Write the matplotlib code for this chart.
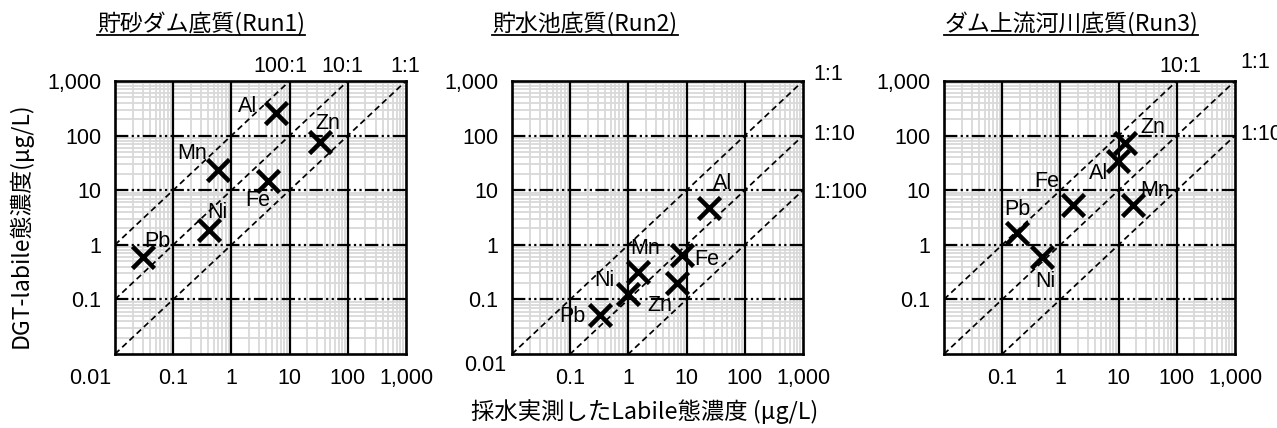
import numpy as np
import matplotlib.pyplot as plt
import matplotlib.transforms as mtransforms
from matplotlib.lines import Line2D

JP = ['Noto Sans CJK JP', 'DejaVu Sans']
NUM = ['Liberation Sans', 'DejaVu Sans']

titles = ['貯砂ダム底質(Run1)', '貯水池底質(Run2)', 'ダム上流河川底質(Run3)']
elements = ['Al', 'Zn', 'Mn', 'Fe', 'Ni', 'Pb']

# x: 採水実測 labile conc., y: DGT-labile conc. (ug/L), same element order
run1_x = [5.8, 33, 0.6, 4.3, 0.41, 0.030]
run1_y = [260, 76, 23, 15, 1.9, 0.6]
run2_x = [24, 6.8, 1.45, 8.3, 1.0, 0.32]
run2_y = [4.7, 0.2, 0.32, 0.65, 0.125, 0.052]
run3_x = [9.8, 13, 17.5, 1.65, 0.48, 0.18]
run3_y = [34, 73, 5.3, 5.3, 0.6, 1.65]

# reference lines y = r * x
run1_ratios = [100, 10, 1]
run1_ratio_labels = ['100:1', '10:1', '1:1']
run2_ratios = [1, 0.1, 0.01]
run2_ratio_labels = ['1:1', '1:10', '1:100']
run3_ratios = [10, 1, 0.1]
run3_ratio_labels = ['10:1', '1:1', '1:10']

tick_vals = [0.01, 0.1, 1, 10, 100, 1000]
tick_text = ['0.01', '0.1', '1', '10', '100', '1,000']

# label offsets in pixels (dx right, dy up)
run1_lab_off = [(-28, 6), (8, 19), (-26, 17), (-11, -20), (9, 17), (15, 15)]
run2_lab_off = [(14, 25), (-17, -23), (7, 23), (25, -4), (-24, 14), (-27, -2)]
run3_lab_off = [(-20, -12), (28, 16), (22, 15), (-26, 24), (4, -25), (0, 23)]

run1_ratio_off = [(-9, 14, 'center'), (-5, 14, 'center'), (-1, 14, 'center')]
run2_ratio_off = [(10, 6, 'left'), (10, 1, 'left'), (10, -2, 'left')]
run3_ratio_off = [(4, 14, 'center'), (20, 18, 'center'), (5, 1, 'left')]

W, H, DPI = 1277, 428, 100
fig = plt.figure(figsize=(W / DPI, H / DPI), dpi=DPI)
px = 72 / DPI  # points per pixel
FS = 15.5

panels = [
    (115, run1_x, run1_y, run1_ratios, run1_ratio_labels, run1_lab_off, run1_ratio_off, 201),
    (512, run2_x, run2_y, run2_ratios, run2_ratio_labels, run2_lab_off, run2_ratio_off, 585),
    (944, run3_x, run3_y, run3_ratios, run3_ratio_labels, run3_lab_off, run3_ratio_off, 1071),
]

minor = [m * 10.0 ** e for e in range(-2, 3) for m in range(2, 10)]
title_texts = []

for i, (left, xs, ys, ratios, rlabels, loff, roff, tcx) in enumerate(panels):
    ax = fig.add_axes([left / W, (H - 354) / H, 291 / W, 273 / H])
    ax.set_xscale('log')
    ax.set_yscale('log')
    ax.set_xlim(0.01, 1000)
    ax.set_ylim(0.01, 1000)

    # grid: light minor lines, solid major verticals, dash-dot-dot major horizontals
    for v in minor:
        ax.axvline(v, color='#d9d9d9', lw=1.3, zorder=0.5)
        ax.axhline(v, color='#d9d9d9', lw=1.3, zorder=0.5)
    for v in tick_vals[1:-1]:
        ax.axvline(v, color='black', lw=1.6, zorder=1)
        ax.axhline(v, color='black', lw=1.6, zorder=1,
                   linestyle=(0, (6, 1.5, 1, 1.5, 1, 1.5)))

    ax.minorticks_off()
    ax.tick_params(length=0, pad=10)
    for sp in ax.spines.values():
        sp.set_linewidth(1.9)
        sp.set_zorder(5)

    # ratio lines
    line_x = np.array([0.01, 1000])
    for r, lab, (dx, dy, ha) in zip(ratios, rlabels, roff):
        ax.plot(line_x, r * line_x, color='black', lw=1.25,
                linestyle=(0, (3.5, 2.2)), zorder=2)
        if r >= 1:
            ex, ey = 1000 / r, 1000
        else:
            ex, ey = 1000, 1000 * r
        ax.annotate(lab, (ex, ey), xytext=(dx * px, dy * px), textcoords='offset points',
                    ha=ha, va='center', fontsize=FS, family=NUM, annotation_clip=False)

    ax.plot(xs, ys, linestyle='none', marker='x', ms=16, mew=3.3, color='black', zorder=4)
    for name, x, y, (dx, dy) in zip(elements, xs, ys, loff):
        ax.annotate(name, (x, y), xytext=(dx * px, dy * px), textcoords='offset points',
                    ha='center', va='center', fontsize=FS, family=NUM, zorder=4)

    # tick labels differ per panel
    if i == 0:
        ax.set_xticks(tick_vals, tick_text)
        ax.set_yticks(tick_vals[1:], tick_text[1:])
    elif i == 1:
        ax.set_xticks(tick_vals[1:], tick_text[1:])
        ax.set_yticks(tick_vals, tick_text)
    else:
        ax.set_xticks(tick_vals[1:], tick_text[1:])
        ax.set_yticks(tick_vals[1:], tick_text[1:])
    for t in ax.get_xticklabels() + ax.get_yticklabels():
        t.set_fontsize(FS)
        t.set_family(NUM)
    if i == 0:
        t0 = ax.get_xticklabels()[0]
        t0.set_transform(t0.get_transform() + mtransforms.ScaledTranslation(-25 / DPI, 0, fig.dpi_scale_trans))
    if i == 1:
        t0 = ax.get_yticklabels()[0]
        t0.set_transform(t0.get_transform() + mtransforms.ScaledTranslation(8 / DPI, -9 / DPI, fig.dpi_scale_trans))

    title_texts.append(fig.text(tcx / W, 1 - 24 / H, titles[i], ha='center', va='center',
                                fontsize=16.5, family=JP))

fig.text(20 / W, 1 - 225 / H, 'DGT-labile態濃度(μg/L)', rotation=90, ha='center', va='center',
         fontsize=16.5, family=JP)
fig.text(645 / W, 1 - 412 / H, '採水実測したLabile態濃度 (μg/L)', ha='center', va='center',
         fontsize=16.8, family=JP)

# underline the panel titles
fig.canvas.draw()
renderer = fig.canvas.get_renderer()
for t in title_texts:
    bb = t.get_window_extent(renderer)
    yline = bb.y0 + 1
    fig.add_artist(Line2D([bb.x0 / W, bb.x1 / W], [yline / H, yline / H],
                          transform=fig.transFigure, color='black', lw=1.3))

fig.savefig('out.png', dpi=DPI)
